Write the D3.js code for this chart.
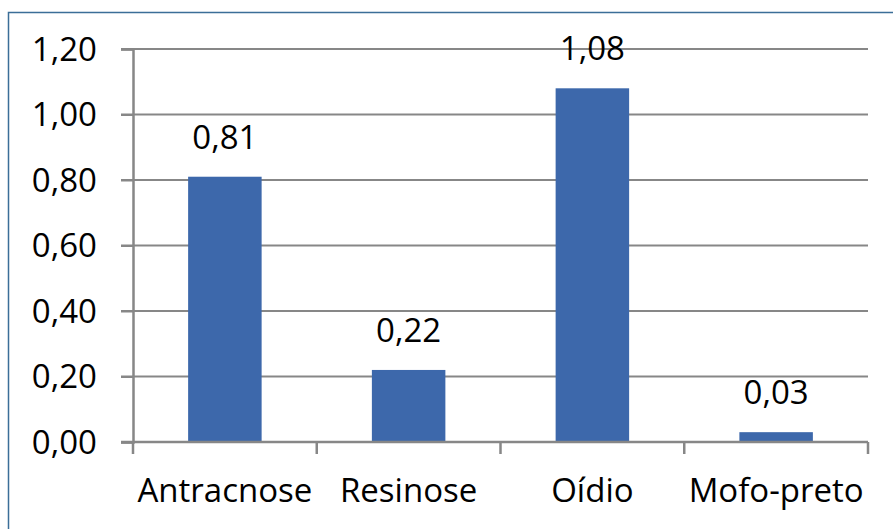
<!DOCTYPE html>
<html>
<head>
<meta charset="utf-8">
<script src="https://cdn.jsdelivr.net/npm/d3@7"></script>
<style>
  html, body { margin: 0; padding: 0; background: #fff; }
  svg { display: block; }
  text { font-family: "Open Sans", sans-serif; fill: #000; }
</style>
</head>
<body>
<svg id="chart" width="893" height="529"></svg>
<script>
// Disease incidence per category
const categories = ["Antracnose", "Resinose", "Oídio", "Mofo-preto"];
const values = [0.81, 0.22, 1.08, 0.03];
const yTicks = [0, 0.2, 0.4, 0.6, 0.8, 1.0, 1.2];

const W = 893, H = 529;
const margin = { left: 133, right: 25, top: 49, bottom: 87 };
const fontSize = 33;
const fmt = v => d3.format(".2f")(v).replace(".", ",");

const svg = d3.select("#chart");

// outer frame
svg.append("rect")
  .attr("x", 8.5).attr("y", 12.5)
  .attr("width", W + 20).attr("height", H + 20)
  .attr("fill", "none").attr("stroke", "#3b6e98").attr("stroke-width", 1.5);

const x = d3.scaleBand()
  .domain(categories)
  .range([margin.left, W - margin.right])
  .paddingInner(0.6)
  .paddingOuter(0.3);

const y = d3.scaleLinear()
  .domain([0, 1.2])
  .range([H - margin.bottom, margin.top]);

const gridColor = "#878787";

// horizontal gridlines
svg.append("g")
  .selectAll("line")
  .data(yTicks.filter(t => t > 0))
  .join("line")
  .attr("x1", margin.left - 12).attr("x2", W - margin.right)
  .attr("y1", d => y(d)).attr("y2", d => y(d))
  .attr("stroke", gridColor).attr("stroke-width", 2);

// y axis
const yAxis = svg.append("g")
  .attr("transform", `translate(${margin.left},0)`)
  .call(d3.axisLeft(y).tickValues(yTicks).tickFormat(fmt).tickSize(12).tickPadding(24));
yAxis.select(".domain").attr("stroke", gridColor).attr("stroke-width", 2.5);
yAxis.selectAll(".tick line").attr("stroke", gridColor).attr("stroke-width", 2);
yAxis.selectAll(".tick text")
  .attr("font-size", fontSize).attr("font-family", "Open Sans, sans-serif")
  .attr("fill", "#000").attr("dy", "0.34em");

// bars
svg.append("g")
  .selectAll("rect")
  .data(categories)
  .join("rect")
  .attr("x", d => x(d))
  .attr("width", x.bandwidth())
  .attr("y", (d, i) => y(values[i]))
  .attr("height", (d, i) => y(0) - y(values[i]))
  .attr("fill", "#3d68ab");

// x axis with ticks at band boundaries
const x0 = y(0);
const step = x.step();
const xg = svg.append("g");
xg.append("line")
  .attr("x1", margin.left - 12).attr("x2", W - margin.right)
  .attr("y1", x0).attr("y2", x0)
  .attr("stroke", gridColor).attr("stroke-width", 2.5);
xg.selectAll("line.tick")
  .data(d3.range(categories.length + 1))
  .join("line")
  .attr("class", "tick")
  .attr("x1", i => margin.left + i * step).attr("x2", i => margin.left + i * step)
  .attr("y1", x0).attr("y2", x0 + 12)
  .attr("stroke", gridColor).attr("stroke-width", 2.5);
xg.selectAll("text")
  .data(categories)
  .join("text")
  .attr("x", d => x(d) + x.bandwidth() / 2)
  .attr("y", 502)
  .attr("text-anchor", "middle")
  .attr("font-size", fontSize)
  .text(d => d);

// value labels
svg.append("g")
  .selectAll("text")
  .data(categories)
  .join("text")
  .attr("x", d => x(d) + x.bandwidth() / 2)
  .attr("y", (d, i) => y(values[i]) - 28)
  .attr("text-anchor", "middle")
  .attr("font-size", fontSize)
  .text((d, i) => fmt(values[i]));
</script>
</body>
</html>
